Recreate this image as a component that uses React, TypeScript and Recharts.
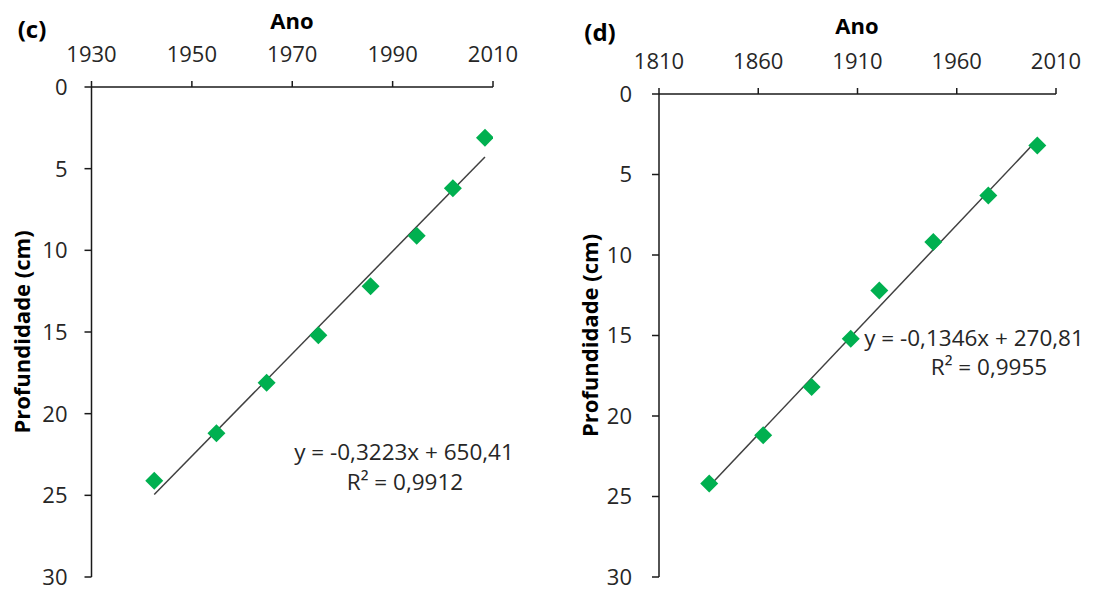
import { ScatterChart, Scatter, XAxis, YAxis, ReferenceLine, Label } from "recharts";

// leitura aproximada dos pontos no gráfico
const anosC = [1942.5, 1954.9, 1964.9, 1975.2, 1985.6, 1994.8, 2002.0, 2008.4];
const profC = [24.1, 21.2, 18.1, 15.2, 12.2, 9.1, 6.2, 3.1];
const anosD = [1835.3, 1862.5, 1886.9, 1906.6, 1921.0, 1948.2, 1975.9, 2000.6];
const profD = [24.2, 21.2, 18.2, 15.2, 12.2, 9.2, 6.3, 3.2];

const ticksAnoC = [1930, 1950, 1970, 1990, 2010];
const ticksAnoD = [1810, 1860, 1910, 1960, 2010];
const ticksProf = [0, 5, 10, 15, 20, 25, 30];

const eqC = ["y = -0,3223x + 650,41", "R² = 0,9912"];
const eqD = ["y = -0,1346x + 270,81", "R² = 0,9955"];

const FONT = '"Open Sans", sans-serif';
const GREEN = "#00B050";
const TXT = "#262626";
const AXIS = { stroke: "#1a1a1a", strokeWidth: 1.5 };

function toPoints(xs: number[], ys: number[]) {
  return xs.map((ano, i) => ({ ano, prof: ys[i] }));
}

// reta de mínimos quadrados entre o primeiro e o último ano
function trend(xs: number[], ys: number[]) {
  const n = xs.length;
  const mx = xs.reduce((a, b) => a + b, 0) / n;
  const my = ys.reduce((a, b) => a + b, 0) / n;
  let sxy = 0;
  let sxx = 0;
  xs.forEach((x, i) => {
    sxy += (x - mx) * (ys[i] - my);
    sxx += (x - mx) * (x - mx);
  });
  const b = sxy / sxx;
  const x0 = Math.min(...xs);
  const x1 = Math.max(...xs);
  return [
    { x: x0, y: my + b * (x0 - mx) },
    { x: x1, y: my + b * (x1 - mx) },
  ];
}

const Diamond = (props: any) => {
  const { cx, cy } = props;
  const r = 9;
  return (
    <polygon
      points={`${cx},${cy - r} ${cx + r},${cy} ${cx},${cy + r} ${cx - r},${cy}`}
      fill={GREEN}
    />
  );
};

const XTick = ({ x, y, payload }: any) => (
  <text x={x} y={y} textAnchor="middle" fontSize={22} fontFamily={FONT} fill={TXT}>
    {payload.value}
  </text>
);

const YTick = ({ x, y, payload }: any) => (
  <text x={x} y={y} dy="0.36em" textAnchor="end" fontSize={22} fontFamily={FONT} fill={TXT}>
    {payload.value}
  </text>
);

function Overlay({ x, y, text, bold, size }: { x: number; y: number; text: string; bold?: boolean; size: number }) {
  return (
    <div
      style={{
        position: "absolute",
        left: x,
        top: y,
        transform: "translate(-50%, -50%)",
        whiteSpace: "nowrap",
        fontFamily: FONT,
        fontSize: size,
        fontWeight: bold ? 700 : 400,
        color: bold ? "#000" : TXT,
        lineHeight: 1,
      }}
    >
      {text}
    </div>
  );
}

interface PanelProps {
  left: number;
  width: number;
  margin: { top: number; right: number; bottom: number; left: number };
  yWidth: number;
  labelOffset: number;
  tickGap: number;
  anos: number[];
  prof: number[];
  ticksAno: number[];
}

function Painel({ left, width, margin, yWidth, labelOffset, tickGap, anos, prof, ticksAno }: PanelProps) {
  const pts = toPoints(anos, prof);
  const seg = trend(anos, prof);
  return (
    <div style={{ position: "absolute", left, top: 0 }}>
      <ScatterChart width={width} height={590} margin={margin}>
        <XAxis
          type="number"
          dataKey="ano"
          orientation="top"
          domain={[ticksAno[0], ticksAno[ticksAno.length - 1]]}
          ticks={ticksAno}
          height={40}
          tickSize={6}
          tickMargin={19}
          tick={<XTick />}
          axisLine={AXIS}
          tickLine={AXIS}
          allowDataOverflow
        />
        <YAxis
          type="number"
          dataKey="prof"
          reversed
          domain={[0, 30]}
          ticks={ticksProf}
          width={yWidth}
          tickSize={7}
          tickMargin={tickGap}
          tick={<YTick />}
          axisLine={AXIS}
          tickLine={AXIS}
        >
          <Label
            value="Profundidade (cm)"
            angle={-90}
            position="insideLeft"
            offset={labelOffset}
            style={{ textAnchor: "middle", fontFamily: FONT, fontSize: 22, fontWeight: 700, fill: "#000" }}
          />
        </YAxis>
        <ReferenceLine
          segment={seg}
          stroke="#404040"
          strokeWidth={1.5}
          ifOverflow="visible"
        />
        <Scatter data={pts} shape={Diamond} isAnimationActive={false} />
      </ScatterChart>
    </div>
  );
}

export default function App() {
  return (
    <div style={{ position: "absolute", left: 0, top: 0, width: 1110, height: 590, background: "#fff" }}>
      <Painel
        left={0}
        width={540}
        margin={{ top: 47, right: 47, bottom: 13, left: 11.5 }}
        yWidth={80}
        labelOffset={10.5}
        tickGap={17}
        anos={anosC}
        prof={profC}
        ticksAno={ticksAnoC}
      />
      <Painel
        left={550}
        width={560}
        margin={{ top: 54, right: 54, bottom: 13, left: 29 }}
        yWidth={80}
        labelOffset={11}
        tickGap={20}
        anos={anosD}
        prof={profD}
        ticksAno={ticksAnoD}
      />
      <Overlay x={32} y={29} text="(c)" bold size={24} />
      <Overlay x={292} y={20} text="Ano" bold size={22} />
      <Overlay x={404} y={452} text={eqC[0]} size={22.5} />
      <Overlay x={405} y={482} text={eqC[1]} size={22.5} />
      <Overlay x={600} y={32} text="(d)" bold size={24} />
      <Overlay x={857} y={25} text="Ano" bold size={22} />
      <Overlay x={974} y={338} text={eqD[0]} size={22.5} />
      <Overlay x={989} y={367} text={eqD[1]} size={22.5} />
    </div>
  );
}
